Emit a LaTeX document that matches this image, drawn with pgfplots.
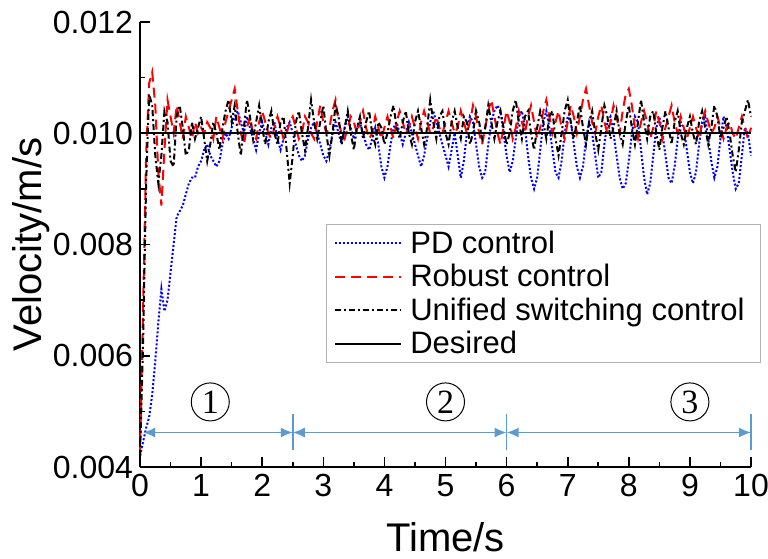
\documentclass[border=0pt]{standalone}
\usepackage{fontspec}
\setmainfont{Liberation Sans}
\newfontfamily\serifnum{Liberation Serif}
\usepackage{pgfplots}
\pgfplotsset{compat=1.18}
\usepackage{pgfplotstable}
\usetikzlibrary{arrows.meta}
\definecolor{arrblue}{RGB}{91,155,213}

% velocities in units of 1e-3 m/s
\pgfplotstableread{
t pd rb us
0.00 4.20 4.20 4.20
0.05 4.45 6.80 6.20
0.10 4.70 9.60 9.10
0.15 4.90 10.90 10.70
0.20 5.30 11.10 10.50
0.25 5.90 10.50 9.60
0.30 6.60 9.30 9.10
0.35 7.20 8.70 9.60
0.40 6.80 9.70 10.40
0.45 7.00 10.60 10.20
0.50 7.50 10.30 9.50
0.55 8.00 10.00 9.40
0.60 8.50 10.50 10.30
0.65 8.60 10.20 10.50
0.70 8.70 9.90 10.10
0.75 8.90 10.30 9.60
0.80 9.10 10.10 9.70
0.85 9.20 9.90 10.20
0.90 9.20 10.20 9.90
0.95 9.40 10.00 10.10
1.00 9.50 10.10 10.30
1.05 9.70 10.00 9.90
1.10 9.80 10.20 9.50
1.15 9.60 10.10 9.80
1.20 9.50 9.90 10.20
1.25 9.40 10.30 10.00
1.30 9.50 10.10 9.70
1.35 9.80 9.90 10.10
1.40 10.00 10.20 10.40
1.45 9.90 10.40 10.60
1.50 10.10 10.60 10.20
1.55 10.30 10.80 10.50
1.60 10.40 10.40 10.00
1.65 10.20 10.00 9.60
1.70 10.00 9.80 10.10
1.75 10.30 10.10 10.60
1.80 10.10 10.30 10.30
1.85 9.90 10.00 9.90
1.90 9.70 9.90 10.20
1.95 10.00 10.20 10.50
2.00 10.20 10.40 10.10
2.05 10.00 10.20 9.80
2.10 9.80 10.00 10.20
2.15 10.10 9.90 10.40
2.20 10.20 10.10 10.00
2.25 9.90 10.30 9.80
2.30 9.70 10.10 10.20
2.35 9.90 9.90 10.30
2.40 10.10 10.00 9.70
2.45 10.20 10.20 9.10
2.50 10.00 10.30 9.60
2.55 9.80 10.10 10.20
2.60 9.60 9.90 10.40
2.65 9.50 10.00 10.00
2.70 9.60 10.30 9.70
2.75 9.90 10.20 10.10
2.80 10.10 10.00 10.60
2.85 10.20 9.90 10.20
2.90 10.00 10.20 9.90
2.95 9.80 10.50 10.20
3.00 9.60 10.20 10.50
3.05 9.50 10.00 10.00
3.10 9.70 10.10 9.60
3.15 10.00 10.40 10.00
3.20 10.20 10.60 10.50
3.25 10.00 10.20 10.30
3.30 9.80 10.00 9.80
3.35 10.10 9.90 10.10
3.40 10.30 10.10 10.40
3.45 10.10 10.30 10.00
3.50 9.90 10.20 9.70
3.55 10.10 10.00 10.10
3.60 10.20 10.20 10.30
3.65 10.00 10.40 9.90
3.70 9.80 10.10 10.20
3.75 9.70 9.90 10.40
3.80 9.90 10.00 10.00
3.85 10.10 10.30 9.80
3.90 9.80 10.10 10.20
3.95 9.40 9.90 10.10
4.00 9.20 10.10 9.80
4.05 9.40 10.30 10.00
4.10 9.80 10.10 10.30
4.15 10.10 9.90 10.50
4.20 10.20 10.20 10.10
4.25 10.00 10.40 9.90
4.30 9.80 10.20 10.20
4.35 10.00 10.00 10.40
4.40 10.20 10.10 10.00
4.45 10.00 10.30 9.80
4.50 9.80 10.10 10.20
4.55 9.60 9.90 10.40
4.60 9.40 10.20 10.10
4.65 9.60 10.40 9.80
4.70 9.90 10.20 10.10
4.75 10.20 10.00 10.60
4.80 10.40 10.10 10.20
4.85 10.20 10.30 9.90
4.90 10.00 10.10 10.30
4.95 9.80 10.00 10.40
5.00 9.60 10.20 10.00
5.05 9.40 10.40 9.80
5.10 9.70 10.20 10.20
5.15 10.00 10.00 10.40
5.20 9.60 10.10 10.10
5.25 9.20 10.40 9.90
5.30 9.50 10.20 10.30
5.35 10.00 10.00 10.20
5.40 10.30 10.20 9.80
5.45 10.20 10.50 10.00
5.50 9.80 10.30 10.40
5.55 9.40 10.00 10.20
5.60 9.20 9.80 9.90
5.65 9.30 10.10 10.10
5.70 9.80 10.40 10.50
5.75 10.20 10.60 10.20
5.80 10.40 10.30 9.90
5.85 10.50 10.00 10.20
5.90 10.40 9.80 10.40
5.95 10.00 10.10 10.10
6.00 9.60 10.40 9.80
6.05 9.30 10.20 10.00
6.10 9.50 9.90 10.40
6.15 9.90 10.10 10.60
6.20 10.30 10.40 10.20
6.25 10.40 10.20 9.90
6.30 10.10 10.00 10.30
6.35 9.60 10.30 10.40
6.40 9.20 10.50 10.00
6.45 9.00 10.20 9.70
6.50 9.20 9.90 10.10
6.55 9.70 10.10 10.40
6.60 10.20 10.40 10.20
6.65 10.40 10.60 9.90
6.70 10.10 10.30 10.30
6.75 9.70 10.00 10.40
6.80 9.30 10.20 9.90
6.85 9.20 10.40 9.60
6.90 9.50 10.10 10.00
6.95 10.00 9.90 10.40
7.00 10.30 10.20 10.60
7.05 10.20 10.50 10.20
7.10 9.80 10.30 9.90
7.15 9.40 10.00 10.20
7.20 9.20 10.30 10.50
7.25 9.40 10.60 10.10
7.30 9.90 10.80 9.80
7.35 10.20 10.50 10.20
7.40 10.00 10.20 10.40
7.45 9.60 10.00 10.00
7.50 9.20 10.30 9.70
7.55 9.30 10.50 10.10
7.60 9.80 10.20 10.50
7.65 10.20 10.00 10.30
7.70 10.30 10.20 9.90
7.75 10.00 10.50 10.10
7.80 9.60 10.30 10.40
7.85 9.20 10.00 10.00
7.90 9.00 10.40 9.80
7.95 9.10 10.70 10.20
8.00 9.50 10.80 10.50
8.05 10.00 10.50 10.10
8.10 10.30 10.10 9.80
8.15 10.20 9.90 10.20
8.20 9.70 10.20 10.60
8.25 9.20 10.40 10.20
8.30 8.90 10.20 9.90
8.35 9.10 9.90 10.30
8.40 9.60 10.10 10.40
8.45 10.10 10.40 10.00
8.50 10.30 10.20 9.70
8.55 10.00 9.90 10.10
8.60 9.60 10.10 10.40
8.65 9.20 10.30 10.10
8.70 9.10 10.50 9.80
8.75 9.40 10.20 10.20
8.80 9.90 10.00 10.40
8.85 10.20 10.30 10.00
8.90 10.10 10.10 9.80
8.95 9.70 9.90 10.10
9.00 9.30 10.10 10.30
9.05 9.10 10.30 10.00
9.10 9.30 10.10 9.80
9.15 9.80 9.90 10.20
9.20 10.20 10.20 10.40
9.25 10.30 10.40 10.10
9.30 9.90 10.20 9.80
9.35 9.50 10.00 10.10
9.40 9.20 10.10 10.50
9.45 9.40 10.30 10.30
9.50 9.90 10.10 9.90
9.55 10.30 9.90 10.10
9.60 10.10 10.10 10.30
9.65 9.70 10.20 10.00
9.70 9.30 10.00 9.60
9.75 9.00 9.90 9.30
9.80 9.10 10.10 9.70
9.85 9.60 10.30 10.20
9.90 10.10 10.10 10.40
9.95 10.00 9.90 10.60
10.00 9.60 10.10 10.30
}\data

\begin{document}
\begin{tikzpicture}
\begin{axis}[
 scale only axis,
 width=305.5pt, height=222.5pt,
 xmin=0, xmax=10, ymin=4, ymax=12,
 axis x line=bottom, axis y line=left,
 axis line style={-, line width=1pt},
 xtick={0,1,...,10}, ytick={4,6,8,10,12},
 yticklabels={0.004,0.006,0.008,0.010,0.012},
 minor x tick num=1, minor y tick num=1,
 tick align=inside,
 major tick length=5pt, minor tick length=2.5pt,
 every tick/.style={line width=0.8pt, black},
 ticklabel style={font=\fontsize{16}{16}\selectfont},
 /pgf/number format/assume math mode=true,
 xlabel={Time/s}, ylabel={Velocity/m/s},
 xlabel style={font=\fontsize{20}{20}\selectfont, at={(axis description cs:0.5,-0.157)}, anchor=center},
 ylabel style={font=\fontsize{20}{20}\selectfont, at={(axis description cs:-0.178,0.5)}, anchor=center},
 clip=false,
 legend cell align=left,
 legend style={at={(rel axis cs:0.304,0.546)}, anchor=north west, draw=gray!60, line width=0.6pt,
   font=\fontsize{15.5}{17}\selectfont, inner xsep=4pt, inner ysep=1pt,
   nodes={inner xsep=4pt}},
 legend image code/.code={\draw[#1] (0pt,0pt) -- (33pt,0pt);},
]
\addplot[blue, line width=1pt, densely dotted] table[x=t, y=pd] {\data};
\addlegendentry{PD control}
\addplot[red, line width=1pt, dash pattern=on 5pt off 3pt] table[x=t, y=rb] {\data};
\addlegendentry{Robust control}
\addplot[black, line width=1pt, dash pattern=on 3pt off 1.5pt on 1pt off 1.5pt] table[x=t, y=us] {\data};
\addlegendentry{Unified switching control}
\addplot[black, line width=0.9pt] coordinates {(0,10) (10,10)};
\addlegendentry{Desired}

\draw[arrblue, line width=0.8pt, {Latex[length=6pt,width=5pt]}-{Latex[length=6pt,width=5pt]}] (axis cs:0.05,4.62) -- (axis cs:2.5,4.62);
\draw[arrblue, line width=0.8pt, {Latex[length=6pt,width=5pt]}-{Latex[length=6pt,width=5pt]}] (axis cs:2.5,4.62) -- (axis cs:6,4.62);
\draw[arrblue, line width=0.8pt, {Latex[length=6pt,width=5pt]}-{Latex[length=6pt,width=5pt]}] (axis cs:6,4.62) -- (axis cs:10,4.62);
\draw[arrblue, line width=0.8pt] (axis cs:2.5,4.3) -- (axis cs:2.5,4.95);
\draw[arrblue, line width=0.8pt] (axis cs:6,4.3) -- (axis cs:6,4.95);
\draw[arrblue, line width=0.8pt] (axis cs:10,4.3) -- (axis cs:10,4.95);
\node[circle, draw, line width=0.5pt, inner sep=0pt, minimum size=19pt, font=\serifnum\fontsize{17}{17}\selectfont] at (axis cs:1.15,5.17) {1};
\node[circle, draw, line width=0.5pt, inner sep=0pt, minimum size=19pt, font=\serifnum\fontsize{17}{17}\selectfont] at (axis cs:5.0,5.17) {2};
\node[circle, draw, line width=0.5pt, inner sep=0pt, minimum size=19pt, font=\serifnum\fontsize{17}{17}\selectfont] at (axis cs:9.0,5.17) {3};
\coordinate (SW) at (rel axis cs:0,0);
\coordinate (NE) at (rel axis cs:1,1);
\end{axis}
\pgfresetboundingbox
\path ([shift={(-70pt,-46pt)}]SW) rectangle ([shift={(8.5pt,11pt)}]NE);
\end{tikzpicture}
\end{document}
